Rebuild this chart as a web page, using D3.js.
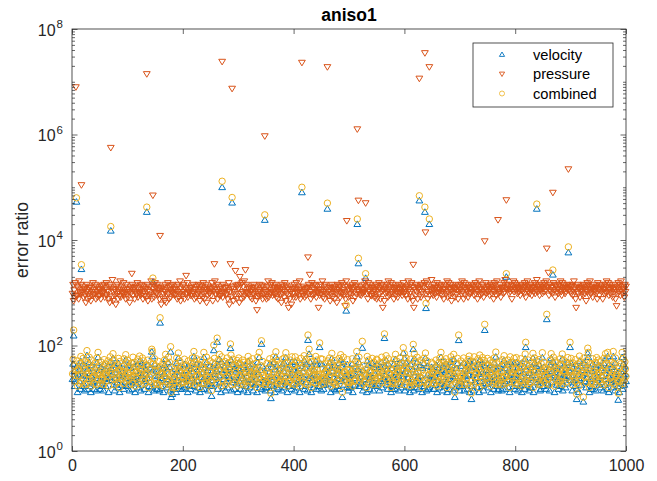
<!DOCTYPE html>
<html><head><meta charset="utf-8">
<script src="https://cdn.jsdelivr.net/npm/d3@7"></script>
<style>body{margin:0;background:#fff}svg{display:block;font-family:"Liberation Sans",Arial,Helvetica,sans-serif}</style>
</head><body><svg id="c" width="657" height="481"></svg>
<script>
const chartTitle="aniso1";
const yLabel="error ratio";
const xTicks=[0,200,400,600,800,1000];
const yTickExps=[0,2,4,6,8];
const seriesNames=["velocity","pressure","combined"];
const seriesColors=["#0072BD","#D95319","#EDB120"];

const velocityBase=[
23,45,14,32,17,21,26,19,40,13,29,27,21,36,15,50,24,17,33,45,19,28,14,40,26,23,21,15,36,23,48,17,30,13,42,26,19,20,32,15,21,38,27,14,47,24,60,18,34,22,
15,39,26,17,19,30,14,44,23,36,17,24,28,21,41,13,33,25,49,16,37,22,29,57,18,43,14,31,24,18,20,35,16,46,27,13,40,22,26,18,32,26,15,45,29,20,54,17,38,24,
42,18,31,14,21,25,37,20,15,48,28,22,39,13,33,25,19,26,44,16,30,51,23,14,36,27,47,18,41,21,15,23,29,34,17,24,43,13,17,28,20,38,16,31,62,22,35,14,45,26,
19,33,15,15,27,40,22,14,46,31,17,22,24,37,13,29,43,20,55,26,16,35,23,48,18,39,14,30,26,21,42,25,15,18,28,19,36,13,47,32,22,58,17,27,40,15,33,24,15,20,
30,16,44,23,24,18,34,26,13,41,21,17,28,15,37,24,47,17,32,62,20,39,14,27,45,22,21,16,35,29,13,43,25,15,19,31,23,60,15,38,27,18,48,21,34,14,19,26,41,17,
25,17,17,38,22,14,46,29,25,19,33,24,15,42,27,55,20,36,13,49,23,31,17,23,26,40,14,34,21,47,16,30,27,24,39,18,53,14,28,44,20,35,15,22,25,32,19,42,13,37,
47,21,35,15,28,27,18,43,24,14,39,30,20,17,26,36,13,50,22,41,16,33,23,25,19,45,14,31,27,19,18,37,23,13,48,29,20,60,16,34,25,44,15,40,22,22,19,30,14,16,
16,37,26,23,20,31,45,14,28,18,22,39,17,48,25,13,35,61,19,42,27,15,16,23,36,18,21,29,14,44,21,33,47,16,26,59,20,38,13,30,17,24,17,43,28,15,49,22,35,19,
34,14,49,27,19,41,16,21,23,37,13,30,46,21,25,17,32,25,52,15,38,20,44,28,14,20,24,33,18,48,26,13,40,22,27,16,35,29,19,50,15,43,27,21,22,17,31,23,45,14,
20,44,29,15,18,24,36,18,26,26,14,41,31,19,47,22,13,38,57,16,33,25,15,20,42,14,29,24,17,35,23,46,15,27,54,21,39,13,32,48,18,26,25,22,37,16,44,28,14,16,
27,23,16,35,21,45,13,30,17,24,18,40,28,62,15,36,22,48,17,31,20,19,26,42,14,34,23,22,16,38,29,13,50,20,43,25,15,25,27,33,18,46,21,14,39,30,18,17,24,44,
43,19,30,21,14,26,39,21,48,16,33,25,23,13,41,28,52,18,35,15,45,24,23,20,29,13,37,15,17,27,44,22,15,55,31,19,40,25,27,14,34,47,20,16,18,26,36,18,29,57,
14,32,47,20,38,25,24,16,29,13,44,23,16,18,35,27,14,57,21,40,31,16,48,24,26,15,33,19,42,26,19,13,37,22,46,17,30,58,20,14,41,28,15,16,34,23,27,19,39,25,
36,24,15,15,27,18,43,31,13,21,22,38,16,47,29,60,19,34,14,41,25,18,17,32,45,20,13,39,28,23,15,35,23,49,18,42,26,14,55,30,21,26,16,37,24,46,19,33,17,14,
21,41,20,17,30,23,47,14,36,26,27,19,33,15,44,28,51,13,38,22,22,17,27,40,14,49,31,20,24,24,35,16,45,29,13,53,21,39,25,17,48,32,14,42,27,25,19,34,23,46,
19,16,34,25,42,13,31,23,20,38,15,47,27,22,61,17,36,29,14,15,24,40,18,21,26,14,44,33,19,52,21,37,15,28,27,23,43,16,35,13,49,30,20,22,25,39,17,46,28,15,
29,48,19,37,14,25,23,33,17,45,26,13,18,31,20,40,15,56,28,35,18,27,22,43,14,30,16,24,16,39,27,58,13,34,47,20,25,41,15,20,32,18,44,23,14,15,36,21,59,26,
17,39,27,22,31,15,46,28,18,19,36,14,43,25,57,20,33,16,49,27,13,41,30,25,18,38,23,15,17,29,45,17,35,21,56,14,27,42,24,26,16,37,31,19,48,13,34,26,19,22,
46,26,14,38,22,20,32,17,44,24,27,15,36,28,13,51,22,40,18,24,27,34,14,47,21,30,20,16,42,25,19,60,29,13,37,23,15,17,33,45,15,26,23,20,39,14,48,31,22,43,
24,18,31,16,41,20,26,27,14,46,34,18,57,23,37,15,15,26,13,44,30,19,20,22,39,16,62,28,35,14,47,21,23,25,17,42,32,13,17,19,36,24,60,15,45,27,18,40,29,21];

const combinedBase=[
29,55,18,41,21,27,33,23,51,17,36,34,27,46,19,62,31,21,41,57,24,35,18,49,33,29,26,19,45,29,60,22,37,17,53,32,24,25,40,19,27,47,34,18,58,30,74,23,42,28,
19,49,32,22,24,38,18,54,29,45,21,30,35,26,51,17,41,31,61,20,46,28,36,70,23,53,18,39,30,23,25,43,20,57,34,16,50,27,33,23,40,32,19,56,36,25,67,21,47,30,
52,23,39,18,27,31,46,25,19,60,35,27,48,17,41,31,24,32,55,20,37,63,29,18,45,34,58,22,51,26,19,29,36,42,21,30,53,16,22,35,25,47,20,39,77,27,44,18,56,33,
24,41,19,19,34,50,27,18,57,39,21,28,30,46,17,36,53,25,68,32,20,44,29,60,22,48,18,37,33,26,52,31,19,23,35,24,45,16,58,40,27,72,21,34,50,19,41,30,20,25,
37,20,55,29,30,22,42,32,17,51,26,22,35,19,46,30,58,21,40,77,25,48,18,34,56,27,27,20,44,36,16,53,31,19,24,39,29,74,19,47,34,22,60,26,42,18,24,32,51,21,
31,22,21,47,27,18,57,36,31,24,41,30,19,52,34,68,25,45,17,61,29,39,21,29,32,50,18,42,26,58,20,37,34,30,48,22,66,18,35,55,25,43,19,28,31,40,24,52,17,46,
58,26,44,19,35,34,22,53,30,18,48,37,25,21,32,45,17,62,27,51,20,41,29,31,24,56,18,38,34,24,22,46,29,16,60,36,25,74,20,42,31,55,19,50,27,28,24,37,18,20,
20,46,32,29,25,38,56,18,35,23,27,48,21,60,31,17,44,76,24,52,34,19,20,29,45,22,26,36,18,55,26,41,58,20,32,73,25,47,17,37,21,30,21,53,35,19,61,27,43,24,
42,18,61,33,24,51,20,27,29,46,17,37,57,26,31,21,40,31,64,19,47,25,55,35,18,25,30,41,22,60,32,16,50,27,34,20,43,36,24,62,19,53,34,26,28,21,38,29,56,18,
25,55,36,19,23,30,45,22,33,32,18,51,38,24,58,27,17,47,71,20,41,31,19,25,52,18,36,30,21,43,29,57,19,34,67,26,48,16,40,60,22,32,31,27,46,20,54,35,18,20,
34,29,20,43,26,56,17,37,21,30,22,50,35,77,19,45,27,60,21,38,25,24,32,52,18,42,29,27,20,47,36,16,62,25,53,31,19,31,34,41,22,57,26,18,48,37,23,21,30,55,
53,24,37,26,18,32,48,26,60,20,41,31,29,17,51,35,64,22,43,19,56,30,29,25,36,16,46,19,21,34,54,27,19,68,38,24,50,31,34,18,42,58,25,20,23,32,45,22,36,70,
18,40,58,25,47,31,30,20,36,17,55,29,20,22,43,34,18,70,26,50,38,20,60,30,33,19,41,24,52,32,24,16,46,27,57,21,37,72,25,18,51,35,19,20,42,29,34,24,48,31,
45,30,19,19,33,22,53,38,17,26,27,47,20,58,36,74,24,42,18,51,31,23,21,40,56,25,16,48,35,29,19,43,29,61,22,52,32,18,68,37,26,33,20,46,30,57,24,41,22,18,
26,51,25,21,37,29,58,18,45,32,34,24,41,19,54,35,63,17,47,27,27,21,34,50,18,61,38,25,30,30,43,20,56,36,16,66,26,48,31,21,59,40,18,52,33,31,24,42,29,57,
24,20,42,31,52,17,38,28,25,47,19,58,34,27,75,21,45,36,18,19,30,49,22,26,32,18,54,41,24,64,26,46,19,35,34,29,53,20,43,16,61,37,25,27,31,48,21,57,35,19,
36,59,24,46,18,31,29,41,21,56,32,17,22,38,25,49,19,69,35,43,22,34,27,53,18,37,20,30,20,48,34,71,16,42,58,25,31,51,19,25,40,22,54,29,18,19,45,26,73,32,
21,48,34,27,38,19,57,35,23,24,44,18,53,31,70,25,41,20,60,34,17,51,37,31,22,47,29,19,21,36,56,21,43,26,69,18,33,52,30,33,20,46,38,24,59,16,42,32,24,27,
57,32,18,47,27,25,40,21,54,30,34,19,45,35,17,63,27,49,22,30,33,42,18,58,26,37,25,20,52,31,24,74,36,16,46,29,19,21,41,56,19,32,28,25,48,18,59,38,27,53,
30,22,38,20,51,25,33,33,18,57,42,22,70,29,46,19,19,32,16,54,37,24,25,27,48,20,77,35,43,18,58,26,28,31,21,52,40,17,21,24,45,30,74,19,56,33,22,49,36,26];

const pressureBase=[
960,1420,700,1120,820,1530,1040,870,1310,890,1210,760,1650,1040,930,1420,960,1120,990,1310,820,1170,1210,890,650,1040,1420,760,1120,960,1240,820,1310,700,1210,1040,890,1530,930,1120,960,1420,760,1310,1040,820,1210,870,1170,890,
1120,760,1310,960,1380,990,1040,1420,820,1210,930,1530,890,1120,1040,760,1310,650,1420,960,1210,820,1750,700,1040,1170,890,1120,600,1310,960,1420,760,1210,1040,870,1650,820,1120,1310,990,960,1530,890,1210,1040,760,1420,930,1120,
820,1170,1040,650,1310,960,1210,700,1420,890,1120,1240,760,1040,1310,930,960,1530,820,1210,1040,990,1420,890,1120,1380,960,760,1310,1040,870,1210,1170,820,960,1420,700,1120,890,1310,1040,930,1650,760,1210,960,1420,820,1040,1530,
1310,990,960,1420,890,1120,1240,760,1040,1210,600,1170,820,1310,960,1120,700,1420,1040,650,1210,890,1530,960,760,1310,1120,820,1380,1040,990,1420,960,1210,890,1170,930,1120,1310,760,1040,1420,820,960,1650,700,1210,1040,890,1310,
1040,1420,760,1210,930,1310,960,1530,820,1120,1040,990,1240,890,1210,1310,870,1040,1420,960,760,1170,1120,820,1310,960,930,1420,1040,1210,700,1380,890,1120,1310,820,1530,960,760,1210,1040,1420,650,1120,890,1310,1170,960,990,1210,
890,1210,1530,700,1040,1310,820,1650,960,930,1120,1420,760,1040,1210,890,1170,870,1310,960,1120,820,1420,1040,990,1210,1240,890,960,1310,760,1120,1530,600,1040,1420,820,1210,960,1310,700,1170,1040,890,1120,1380,760,1310,960,1420,
1210,650,1120,1420,960,760,1530,1040,1310,820,1650,890,1120,990,1420,1040,960,1210,930,1170,1310,820,1040,1120,760,1240,960,1420,890,1210,1040,700,1310,1530,820,960,1120,870,1420,1040,1210,890,1380,760,1310,960,1120,1170,820,1040,
760,1310,1040,1650,820,1210,960,1420,990,1120,1530,890,1040,1310,930,1210,1420,960,820,1240,1120,760,1310,1040,1170,890,1210,650,1420,960,1120,1310,820,1530,1040,700,1380,960,1210,890,1420,1120,760,1310,1040,600,1170,960,1210,820,
1420,960,1210,820,1530,1040,990,1310,1120,890,1650,760,1210,1040,1420,960,870,1310,1120,820,1170,1040,890,1210,1240,700,1420,960,1120,1310,760,1040,1530,890,1210,930,1420,1120,960,1380,820,1310,1040,990,1210,1170,890,1120,1420,960,
1120,1650,820,1040,1310,760,1420,960,1210,930,1530,1040,890,1310,1120,700,1240,960,1420,820,1210,1040,1170,760,1310,960,1120,650,1420,890,1210,1380,1040,820,1310,960,1530,990,1120,1420,890,1040,1210,760,1650,960,1310,1120,820,1170,
960,1310,1240,890,1120,1420,700,1210,1040,1530,820,1310,960,1380,760,1120,1420,1040,930,1210,1310,890,1170,960,1120,990,1420,1040,1650,820,1210,1310,960,760,1530,1120,1040,1420,890,1210,870,1240,960,1310,1120,820,1170,1040,1420,760,
1310,820,1120,1530,960,1210,760,1380,1040,1420,890,1120,1310,700,1170,960,1210,1040,1420,820,1650,1120,890,1310,930,1530,1040,960,1420,1210,760,1120,1240,890,1310,1040,1170,820,960,1420,1210,990,1120,1380,1040,890,1310,1530,960,1210,
1040,1170,890,1310,1210,760,1650,1120,960,1420,1040,820,1530,1310,700,1210,960,1240,1120,890,1420,1040,1310,760,1170,1210,960,1120,1380,820,1420,1040,930,1310,1210,1530,890,1120,960,1650,1420,760,1040,1310,1210,890,1170,1120,1750,960,
1210,890,1420,1120,1240,960,1310,820,1530,1040,1210,990,1420,1120,1310,960,1380,890,1040,1170,760,1210,1420,1120,960,1310,1650,820,1040,1530,1210,890,1420,1120,700,1310,960,1240,1040,1210,820,1170,1420,960,1120,1310,760,1380,1040,1210,
1120,1420,960,1650,1040,1310,760,1530,1210,890,1420,1120,1040,1240,820,1310,960,1170,1210,990,1420,1120,1040,1310,1380,890,1210,1530,960,1120,1420,760,1310,1040,1650,1210,890,1170,1120,960,1420,1310,820,1040,1240,1210,1530,960,1120,1310,
1310,1040,1170,890,1420,1210,1380,960,1120,1310,760,1530,1040,1420,1210,890,1650,1120,1310,960,1170,1040,1420,820,1210,1240,1120,1310,960,1530,1040,1750,1210,890,1420,1120,1310,1380,960,1170,1040,1210,1420,760,1120,1310,1650,1040,1530,1210,
1420,1120,1310,960,1240,1210,1040,1170,890,1420,1310,1120,1380,1040,1210,960,1530,1310,820,1420,1120,1650,1040,1210,1310,960,1170,1420,1120,890,1240,1310,1040,1210,1530,960,1420,1120,1750,1310,1040,1210,1380,890,1170,1120,1420,1310,960,1210,
1210,1530,1040,1420,1120,1650,960,1310,1210,1170,890,1420,1120,1040,1240,1310,960,1210,1530,1120,1420,820,1310,1380,1040,1210,1170,960,1420,1120,1310,1650,1040,890,1530,1210,1420,1120,1310,960,1240,1040,1170,1210,1420,760,1120,1310,1380,1040,
960,1310,1420,890,1120,1650,1040,1210,760,1530,1310,1040,1420,960,1210,1240,820,1120,1310,1170,1040,890,1420,1210,1380,960,1120,700,1310,1530,1040,1420,1210,890,1650,1120,960,1310,1170,820,1210,1420,1040,1120,1240,960,1310,760,1530,1210,
1120,890,1420,1210,1380,1040,1310,760,1170,1120,960,1420,1210,990,1650,1310,1040,1530,890,1210,1420,1120,960,1240,1310,820,1170,1040,1210,1420,760,1120,1380,1310,960,1530,1210,1040,1420,890,1650,1120,1310,960,1170,1210,820,1420,1040,1310];

// sparse points (1-based sample index)
const pressureSpikeIdx=[7,17,70,108,135,146,159,206,257,271,286,289,295,303,313,334,348,391,415,426,429,445,461,493,496,515,517,530,561,616,617,627,637,638,645,745,769,784,857,860,868,896,910,983];
const pressureSpikeVal=[7.9e6,1.1e5,5.6e5,2300,1.4e7,7.0e4,1.2e4,2100,3500,2.4e7,3500,7.4e6,2600,2000,2700,470,9.3e5,520,2.3e7,4700,2200,520,1.9e7,560,2.3e4,1.26e6,5.6e4,5.0e4,520,3400,520,1.15e7,3.5e7,1.4e4,1.9e7,9500,2.4e4,5.7e4,6900,2400,7.9e4,2.2e5,520,560];
const velocitySpikeIdx=[3,8,17,27,70,135,144,146,159,178,179,181,252,256,262,271,286,289,342,348,359,415,426,428,447,461,488,495,515,517,524,530,564,598,616,627,637,639,645,691,698,721,745,784,819,839,857,868,896,899,911,923,931,967,986];
const velocitySpikeVal=[154,5.3e4,2800,65,1.5e4,3.4e4,76,1600,270,76,10.5,12,11,81,117,1.0e5,89,5.1e4,107,2.4e4,10,8.0e4,127,69,93,3.9e4,10.5,456,2.0e4,3600,90,1900,138,72,85,5.6e4,3.4e4,510,2.0e4,10.5,126,9.6,196,2000,93,3.9e4,314,2200,5800,93,9.6,8.6,71,62,9.3];
const combinedSpikeVal=[196,6.3e4,3400,80,1.8e4,4.2e4,85,1900,336,95,13,16,14,102,138,1.3e5,107,6.4e4,123,3.0e4,12.4,1.0e5,158,85,112,5.0e4,13,590,2.5e4,4500,120,2300,166,91,105,6.9e4,4.2e4,630,2.5e4,13,158,12.5,252,2300,115,4.8e4,390,2700,7400,115,12,10.5,89,74,12.5];

function buildSeries(base, idx, vals){
  const a=base.slice(0,1000);
  idx.forEach((k,j)=>{a[k-1]=vals[j];});
  return a.map((v,i)=>({x:i+1,y:v}));
}
const velocity=buildSeries(velocityBase,velocitySpikeIdx,velocitySpikeVal);
const pressure=buildSeries(pressureBase,pressureSpikeIdx,pressureSpikeVal);
const combined=buildSeries(combinedBase,velocitySpikeIdx,combinedSpikeVal);

const W=657,H=481;
const L=72,R=626,T=29,B=451;
const svg=d3.select("#c");
svg.append("rect").attr("width",W).attr("height",H).attr("fill","#fff");
const x=d3.scaleLinear().domain([0,1000]).range([L,R]);
const y=d3.scaleLog().domain([1,1e8]).range([B,T]);
const axisColor="#262626";

// markers
const triUp="M0,-3.2L3.4,2.4L-3.4,2.4Z";
const triDown="M0,3.2L3.4,-2.4L-3.4,-2.4Z";
const g=svg.append("g");
g.selectAll("path.v").data(velocity).join("path").attr("class","v")
 .attr("d",triUp).attr("transform",d=>`translate(${x(d.x)},${y(d.y)})`)
 .attr("fill","none").attr("stroke",seriesColors[0]).attr("stroke-width",1);
g.selectAll("path.p").data(pressure).join("path").attr("class","p")
 .attr("d",triDown).attr("transform",d=>`translate(${x(d.x)},${y(d.y)})`)
 .attr("fill","none").attr("stroke",seriesColors[1]).attr("stroke-width",1);
g.selectAll("circle.c").data(combined).join("circle").attr("class","c")
 .attr("cx",d=>x(d.x)).attr("cy",d=>y(d.y)).attr("r",3.2)
 .attr("fill","none").attr("stroke",seriesColors[2]).attr("stroke-width",1);

// axes
const majorY=yTickExps.map(e=>Math.pow(10,e));
const minorY=[];
for(let e=0;e<8;e++){for(let m=2;m<=10;m++){const v=m*Math.pow(10,e); if(!majorY.includes(v)) minorY.push(v);}}
function styleAxis(sel){sel.select(".domain").remove();sel.selectAll("line").attr("stroke",axisColor).attr("stroke-width",0.7);}
svg.append("g").attr("transform",`translate(0,${B})`)
 .call(d3.axisBottom(x).tickValues(xTicks).tickSize(-5).tickPadding(9).tickFormat(d3.format("d")))
 .call(styleAxis)
 .call(s=>s.selectAll("text").attr("fill",axisColor).style("font-size","16px").style("font-family","Liberation Sans, Arial, sans-serif"));
svg.append("g").attr("transform",`translate(0,${T})`)
 .call(d3.axisTop(x).tickValues(xTicks).tickSize(-5).tickFormat("")).call(styleAxis);
svg.append("g").attr("transform",`translate(${L},0)`)
 .call(d3.axisLeft(y).tickValues(majorY).tickSize(-5.5).tickFormat("")).call(styleAxis);
svg.append("g").attr("transform",`translate(${L},0)`)
 .call(d3.axisLeft(y).tickValues(minorY).tickSize(-3).tickFormat("")).call(styleAxis);
svg.append("g").attr("transform",`translate(${R},0)`)
 .call(d3.axisRight(y).tickValues(majorY).tickSize(-5.5).tickFormat("")).call(styleAxis);
svg.append("g").attr("transform",`translate(${R},0)`)
 .call(d3.axisRight(y).tickValues(minorY).tickSize(-3).tickFormat("")).call(styleAxis);
svg.append("rect").attr("x",L).attr("y",T).attr("width",R-L).attr("height",B-T)
 .attr("fill","none").attr("stroke",axisColor).attr("stroke-width",0.8);

// y tick labels 10^n
yTickExps.forEach(e=>{
  const t=svg.append("text").attr("x",63).attr("y",y(Math.pow(10,e))+6.5)
   .attr("text-anchor","end").attr("fill",axisColor).style("font-size","16px");
  t.append("tspan").text("10");
  t.append("tspan").attr("dy",-7.5).attr("dx",1).style("font-size","11.5px").text(String(e));
});

// title & label
svg.append("text").attr("x",(L+R)/2).attr("y",21).attr("text-anchor","middle")
 .style("font-size","17.5px").style("font-weight","bold").attr("fill","#000").text(chartTitle);
svg.append("text").attr("transform",`translate(28,${(T+B)/2}) rotate(-90)`).attr("text-anchor","middle")
 .style("font-size","17.5px").attr("fill",axisColor).text(yLabel);

// legend
const lg=svg.append("g");
lg.append("rect").attr("x",473).attr("y",43).attr("width",140).attr("height",64)
 .attr("fill","#fff").attr("stroke",axisColor).attr("stroke-width",0.8);
const rowsY=[54.5,74,93.5];
const legendShapes=["up","down","circle"];
seriesNames.forEach((n,i)=>{
  const cy=rowsY[i];
  if(legendShapes[i]==="circle"){
    lg.append("circle").attr("cx",502).attr("cy",cy).attr("r",2.5).attr("fill","none").attr("stroke",seriesColors[i]).attr("stroke-width",0.8);
  } else {
    lg.append("path").attr("d",legendShapes[i]==="up"?"M0,-2.5L2.6,1.9L-2.6,1.9Z":"M0,2.5L2.6,-1.9L-2.6,-1.9Z")
     .attr("transform",`translate(502,${cy})`).attr("fill","none").attr("stroke",seriesColors[i]).attr("stroke-width",0.9);
  }
  lg.append("text").attr("x",533).attr("y",cy+5).style("font-size","14.7px").attr("fill","#000").text(n);
});
</script></body></html>
